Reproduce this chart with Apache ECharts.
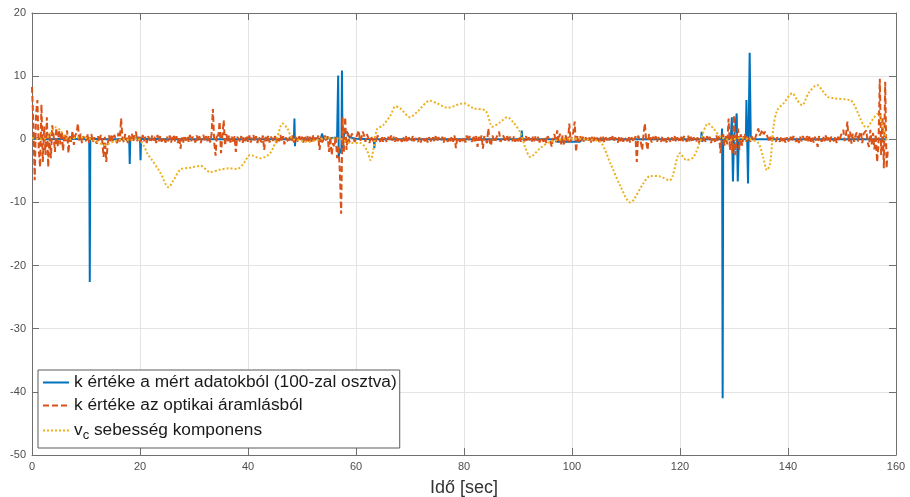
<!DOCTYPE html>
<html>
<head>
<meta charset="utf-8">
<script src="https://cdn.jsdelivr.net/npm/echarts@6/dist/echarts.min.js"></script>
<style>
  html, body { margin: 0; padding: 0; background: #fff; }
  #chart { width: 910px; height: 497px; }
</style>
</head>
<body>
<div id="chart"></div>
<script>
// k értéke a mért adatokból (100-zal osztva) – idő [sec] és érték
const kMeasTime = [0, 1.5, 3, 6, 10.6, 10.7, 10.8, 14, 18.0, 18.1, 18.2, 20.0, 20.1, 20.2, 25, 35,
  48.5, 48.6, 48.7, 48.8, 53.5, 53.7, 54.0, 56.5, 56.7, 56.8, 57.0, 57.3, 57.4, 57.5, 57.8, 58.3, 58.8, 60,
  63.3, 63.4, 63.5, 75, 90.6, 90.7, 90.8, 97.1, 97.2, 101.5, 101.6, 110, 123.9, 124.0, 124.1, 124.3,
  127.7, 127.8, 127.9, 128.0, 129.4, 129.6, 129.8, 130.0, 130.5, 130.7, 130.9, 132.2, 132.3, 132.6, 132.9,
  133.1, 133.4, 145, 158.3];
const kMeasValue = [0.2, 0.1, 0, 0.1, 0, -22.6, 0.1, 0, 0, -3.9, 0.1, 0.3, -3.3, 0.1, 0, 0,
  0, 3.3, -1.1, 0.1, 0.1, 0.9, 0.1, 0.3, 10.1, -2.8, -1.5, -2.2, 10.9, -1.5, 0.8, 1.2, 0.3, 0.1,
  0, -1.4, 0, 0, 0, 1.4, 0, 0, -0.4, -0.4, 0, 0, 0, 1.2, -0.4, 0,
  0, 1.7, -41.0, 0.1, 0, 3.5, -6.7, 0, 4.1, -6.7, 0, 0, 6.2, -7.0, 13.7,
  0.5, 0, 0, 0];

// k értéke az optikai áramlásból – 0.25 s-onként (soronként 5 s)
const OPT_STEP = 0.25;
const kOptValue = [
  8.3, 2.5, -6.5, 4.0, 6.2, -1.5, -4.4, 5.5, -3.6, 2.0, -2.5, 3.5, -4.4, 1.0, -3.0, 2.2, 0.6, -2.0, 1.8, -1.2,
  1.5, -0.8, 1.2, -1.8, 0.9, -0.5, 1.4, -2.2, 0.7, -0.4, 1.3, -0.9, 0.6, 1.0, 2.5, -0.3, 0.9, -0.6, 0.5, 0.8,
  -0.3, 0.9, -0.6, 0.4, 0.8, -0.5, 0.3, 0.6, -0.7, 0.5, -0.4, 0.7, -0.2, -2.8, 0.4, -3.6, -1.0, 0.6, -0.5, 0.8,
  -0.3, 0.7, 0.4, -0.6, 1.0, -0.4, 3.3, 0.2, -0.5, 0.8, 0.3, -0.6, 0.6, -0.3, 0.9, -0.4, 0.8, 1.2, -0.3, 0.6,
  0.5, -0.4, 0.7, -0.3, 0.4, -0.6, 0.5, 0.2, -0.5, 0.6, -0.2, 0.4, -0.6, 0.7, -0.3, 0.5, -0.4, 0.3, 0.6, -0.5,
  0.4, -0.3, 0.6, -0.5, 0.3, 0.7, -0.4, 0.5, -0.6, 0.4, -1.5, 0.3, -0.5, 0.6, -0.2, 0.5, -0.4, 0.7, -0.3, 0.4,
  0.4, -0.5, 0.6, -0.3, 0.5, -0.6, 0.3, 0.7, -0.4, 0.5, -0.3, 0.6, -0.5, 0.8, 4.8, -0.6, -2.6, 0.9, 0.5, 2.8,
  -2.2, 0.6, 3.0, -1.0, 0.8, -0.4, 0.6, -0.5, 0.4, -0.6, 0.5, -2.0, 0.4, 0.7, -0.3, 0.5, -0.6, 0.4, -0.3, 0.6,
  -0.4, 0.6, -0.5, 0.3, 0.7, -0.4, 0.5, -0.6, 0.4, 0.2, -0.5, 0.6, -1.7, 0.4, -0.3, 0.6, -0.5, 0.4, 0.7, -0.3,
  0.5, -0.6, 0.4, -0.3, 0.7, -0.4, 0.5, -0.8, 0.3, 0.6, -0.5, 0.4, -0.3, 0.6, -0.5, 0.4, 0.7, -0.4, 0.5, -0.3,
  0.4, -0.5, 0.6, -0.3, 0.5, -0.6, 0.4, -0.4, 0.7, -0.5, 0.3, -0.3, 0.6, -1.7, 0.4, -0.5, -0.8, 0.6, -0.4, 0.5,
  -2.0, 0.4, -2.5, -0.6, -1.2, 0.5, -3.0, -1.0, -4.9, -11.8, 3.5, -2.0, 3.5, -1.7, 1.0, -0.5, -0.8, 0.9, 1.2, -0.4,
  -0.5, 0.8, 1.4, -0.3, 0.2, 1.2, 0.6, -0.4, 0.8, 0.3, -0.6, 0.5, 0.7, -0.3, 0.4, -0.5, 0.6, 0.3, -0.4, 0.5,
  -0.4, 0.3, 0.5, -0.5, 0.4, -0.3, 0.6, -0.2, 0.4, -0.4, 0.5, -0.3, 0.3, 0.6, -0.4, 0.4, -0.3, 0.5, -0.5, 0.3,
  0.3, -0.4, 0.5, -0.3, 0.2, 0.5, -0.4, 0.3, -0.5, 0.4, 0.6, -0.3, 0.4, -0.5, 0.3, 0.5, -0.4, 0.3, -0.3, 0.5,
  -0.4, 0.3, 0.6, -0.3, 0.4, -0.5, 0.3, 0.5, -0.4, 0.3, -0.3, 0.5, -0.4, 0.6, -1.4, 0.3, 0.5, -0.4, 0.3, -0.3,
  0.4, -0.5, 0.6, -0.3, 0.5, 0.2, -0.4, 0.6, -0.3, 0.5, -1.2, 0.4, -0.3, 0.6, -1.5, 0.5, 0.8, -0.6, 1.7, -0.4,
  -1.0, 0.6, 0.4, -0.5, 0.3, 0.7, 1.2, -0.4, -0.5, 0.6, 0.3, -0.4, 0.5, -0.3, 0.4, 0.6, -0.3, 0.5, -0.4, 0.3,
  -0.3, 0.5, -0.4, 0.3, 0.6, -0.3, 0.5, -0.4, 0.3, 0.6, -0.5, 0.4, -0.3, 0.5, -0.2, 0.4, -0.5, 0.3, 0.6, -0.4,
  0.3, -0.6, 0.5, 0.6, -0.4, -1.2, 0.4, 0.8, -0.5, 1.4, -0.3, 0.9, -0.8, 0.6, -1.0, 0.7, 0.4, -0.6, 2.5, -0.4,
  -0.6, 1.2, 2.8, -2.0, 0.5, -0.4, 0.6, -0.3, 0.4, -0.5, 0.3, 0.6, -0.4, 0.3, -0.5, 0.4, -0.3, 0.5, -0.2, 0.4,
  -0.4, 0.5, -0.3, 0.4, -0.5, 0.3, 0.6, -0.4, 0.3, -0.2, 0.5, -0.4, 0.3, 0.6, -0.5, 0.4, -0.3, 0.5, -0.4, 0.3,
  0.5, -0.3, 0.4, -0.5, 0.3, 0.6, -0.4, 0.5, -3.6, 0.6, 0.3, -0.5, -1.7, 0.8, 2.5, -0.4, -1.7, 0.8, 0.4, -0.5,
  0.4, -0.3, 0.5, -0.4, 0.3, 0.6, -0.4, 0.5, -0.3, 0.4, -0.5, 0.3, 0.6, -0.4, 0.3, -0.2, 0.5, -0.4, 0.3, 0.4,
  -0.5, 0.4, -0.3, 0.5, 0.3, -0.4, 0.6, -0.3, 0.4, -0.5, 0.3, 0.5, -0.4, 0.3, -0.6, 0.4, -0.3, 0.5, 0.6, -0.4,
  0.5, -0.3, 0.4, -0.6, 0.3, 0.5, -0.4, 0.6, -0.3, 0.5, -2.2, 0.4, 0.8, -1.0, 0.5, -0.8, 3.3, -1.7, 0.6, -2.2,
  3.8, -2.5, 0.7, 1.7, -1.7, 0.8, -1.0, 0.4, 0.9, -0.5, 0.6, 0.3, -0.4, 0.5, 0.3, -0.3, 0.4, 0.2, 1.7, 0.6,
  1.0, 1.5, 0.8, 1.2, 1.4, 0.3, -0.3, 0.4, -0.5, 0.3, 0.5, -0.4, 0.3, 0.2, -0.4, 0.5, -0.3, 0.4, -0.5, 0.3,
  0.3, -0.5, 0.4, -0.3, 0.5, 0.2, -0.4, 0.3, -0.6, 0.4, -0.3, 0.5, 0.3, -0.4, 0.5, -0.3, 0.6, -0.4, 0.3, -0.5,
  0.4, -0.3, -1.2, 0.5, 0.3, -0.4, 0.5, -0.3, 0.6, -0.4, 0.3, -0.5, 0.4, 0.6, -0.3, 0.5, -0.6, 0.4, -0.3, 0.5,
  0.4, 1.5, -0.3, 0.8, 2.8, -0.5, 1.2, -0.7, 0.9, -0.4, 0.6, 1.1, -0.4, 0.8, 1.2, -0.6, 0.9, 1.0, 1.4, -0.5,
  -1.2, 1.5, -0.8, 1.0, -1.6, 0.8, -3.6, -1.0, 9.6, -2.5, 3.5, -4.6, 9.1, -4.6, -1.5
];

// v_c sebesség komponens
const vcTime = [0, 1.5, 2.8, 3.8, 4.3, 5.3, 6.2, 7.1, 8.4, 10.2, 12, 13.6, 15, 16.9, 18.2, 19.4, 20.6, 21.5,
  22, 23.7, 25.3, 26.2, 27.5, 29.3, 31.2, 33, 34.9, 36.5, 38, 39.2, 40.4, 42.3, 44.1, 45.4, 46.4, 47.3,
  48.2, 49.5, 51, 54.6, 57, 59, 60.8, 62, 62.7, 63.2, 63.9, 65, 66.4, 67.3, 68.2, 70, 71.3, 73.7, 75,
  76.9, 79.9, 81.8, 84, 85.3, 86.7, 88, 89.1, 90.4, 91.3, 92.3, 94.1, 96, 99.7, 102.8, 105.3, 107.1, 109,
  110.8, 111.4, 113.2, 114.5, 116.3, 118.1, 118.6, 120, 121.2, 122.5, 123.8, 125.2, 126.2, 127.5, 129.3,
  131, 133, 134.5, 135.4, 136.1, 136.7, 137.3, 138, 139.2, 140.8, 141.7, 142.6, 143.8, 145.4, 146.3,
  147.4, 148.4, 151.5, 152.1, 153, 154, 154.6, 155.8, 156.7, 157.4, 158.3];
const vcValue = [0.2, 0, 0.3, 1.4, 1.9, 1.4, 0.2, 0, 0.3, 0.2, -0.4, -0.9, -0.4, 0, -0.1, 0.2, -0.9, -2.5,
  -3.0, -5.2, -7.6, -6.5, -4.8, -4.5, -4.2, -5.2, -4.8, -4.6, -4.7, -3.8, -2.5, -3.0, -2.2, 0.3, 2.5, 1.7,
  0.1, -0.1, -0.4, 0.2, 0.1, -0.6, -0.6, -1.7, -3.3, -1.7, 1.6, 2.2, 3.8, 5.2, 4.9, 3.5, 4.3, 6.1, 5.7,
  5.0, 5.7, 4.9, 4.5, 2.0, 2.7, 3.5, 2.7, 1.1, -1.2, -2.8, -1.4, -0.4, 0.1, 0, -0.5, -3.8, -7.5,
  -10.0, -9.6, -7.0, -5.8, -5.9, -6.5, -5.9, -2.2, -3.3, -2.8, -0.2, 2.5, 1.7, 0.4, -0.1,
  0.2, 0, -0.6, -2.8, -4.9, -3.8, 1.9, 4.6, 5.7, 7.3, 6.2, 5.4, 7.3, 8.6, 7.8,
  6.7, 6.5, 6.2, 5.7, 4.1, 2.2, 1.9, 3.3, 4.1, 2.5, -0.2];

const seriesNames = [
  'k értéke a mért adatokból (100-zal osztva)',
  'k értéke az optikai áramlásból',
  'vc sebesség komponens'
];

const axisColor = '#6f6f6f';
const gridColor = '#e4e4e4';
const fontFam = '"Liberation Sans", Arial, Helvetica, sans-serif';

const pairs = (xs, ys) => xs.map((x, i) => [x, ys[i]]);
const kOptData = kOptValue.map((v, i) => [i * OPT_STEP, v]);

const chart = echarts.init(document.getElementById('chart'));

const boxAxis = (pos, extra) => Object.assign({
  type: 'value',
  position: pos,
  axisLine: { show: true, onZero: false, lineStyle: { color: axisColor, width: 1 } },
  axisTick: { show: true, inside: true, length: 7, lineStyle: { color: axisColor } },
  axisLabel: { show: false },
  splitLine: { show: false }
}, extra);

chart.setOption({
  animation: false,
  backgroundColor: '#fff',
  textStyle: { fontFamily: fontFam },
  grid: { left: 32, right: 14, top: 13, bottom: 42, outerBoundsMode: 'none', containLabel: false },
  xAxis: [
    boxAxis('bottom', {
      min: 0, max: 160, interval: 20,
      axisLabel: { show: true, color: '#4d4d4d', fontSize: 11, margin: 6, fontFamily: fontFam },
      splitLine: { show: true, lineStyle: { color: gridColor } },
      name: 'Idő [sec]', nameLocation: 'middle', nameGap: 24,
      nameTextStyle: { fontSize: 18, color: '#333', fontFamily: fontFam }
    }),
    boxAxis('top', { min: 0, max: 160, interval: 20 })
  ],
  yAxis: [
    boxAxis('left', {
      min: -50, max: 20, interval: 10,
      axisLabel: { show: true, color: '#4d4d4d', fontSize: 11, margin: 6, fontFamily: fontFam },
      splitLine: { show: true, lineStyle: { color: gridColor } }
    }),
    boxAxis('right', { min: -50, max: 20, interval: 10 })
  ],
  legend: {
    orient: 'vertical',
    left: 38, top: 370,
    padding: [1, 3, 6, 4],
    itemWidth: 26, itemHeight: 14, itemGap: 0,
    backgroundColor: '#fff',
    borderColor: '#5a5a5a', borderWidth: 1,
    itemStyle: { opacity: 0 },
    data: seriesNames,
    formatter: name => name === seriesNames[2]
      ? '{n|v}{s|c}{n| sebesség komponens}'
      : '{n|' + name + '}',
    textStyle: {
      color: '#1a1a1a', fontSize: 17.3, lineHeight: 23, fontFamily: fontFam,
      rich: {
        n: { fontSize: 17.3, lineHeight: 23, color: '#1a1a1a', fontFamily: fontFam, verticalAlign: 'middle' },
        s: { fontSize: 13, lineHeight: 23, color: '#1a1a1a', fontFamily: fontFam, verticalAlign: 'bottom', padding: [12, 0, 0, 0] }
      }
    }
  },
  series: [
    {
      name: seriesNames[0], type: 'line', data: pairs(kMeasTime, kMeasValue),
      symbol: 'none', lineStyle: { color: '#0072BD', width: 2 }, itemStyle: { color: '#0072BD' }, z: 2
    },
    {
      name: seriesNames[1], type: 'line', data: kOptData,
      symbol: 'none', lineStyle: { color: '#D95319', width: 2, type: [6, 3] }, itemStyle: { color: '#D95319' }, z: 3
    },
    {
      name: seriesNames[2], type: 'line', data: pairs(vcTime, vcValue), smooth: 0.3,
      symbol: 'none', lineStyle: { color: '#EDB120', width: 2, type: [2, 2] }, itemStyle: { color: '#EDB120' }, z: 4
    }
  ]
});

window.addEventListener('resize', () => chart.resize());
</script>
</body>
</html>
